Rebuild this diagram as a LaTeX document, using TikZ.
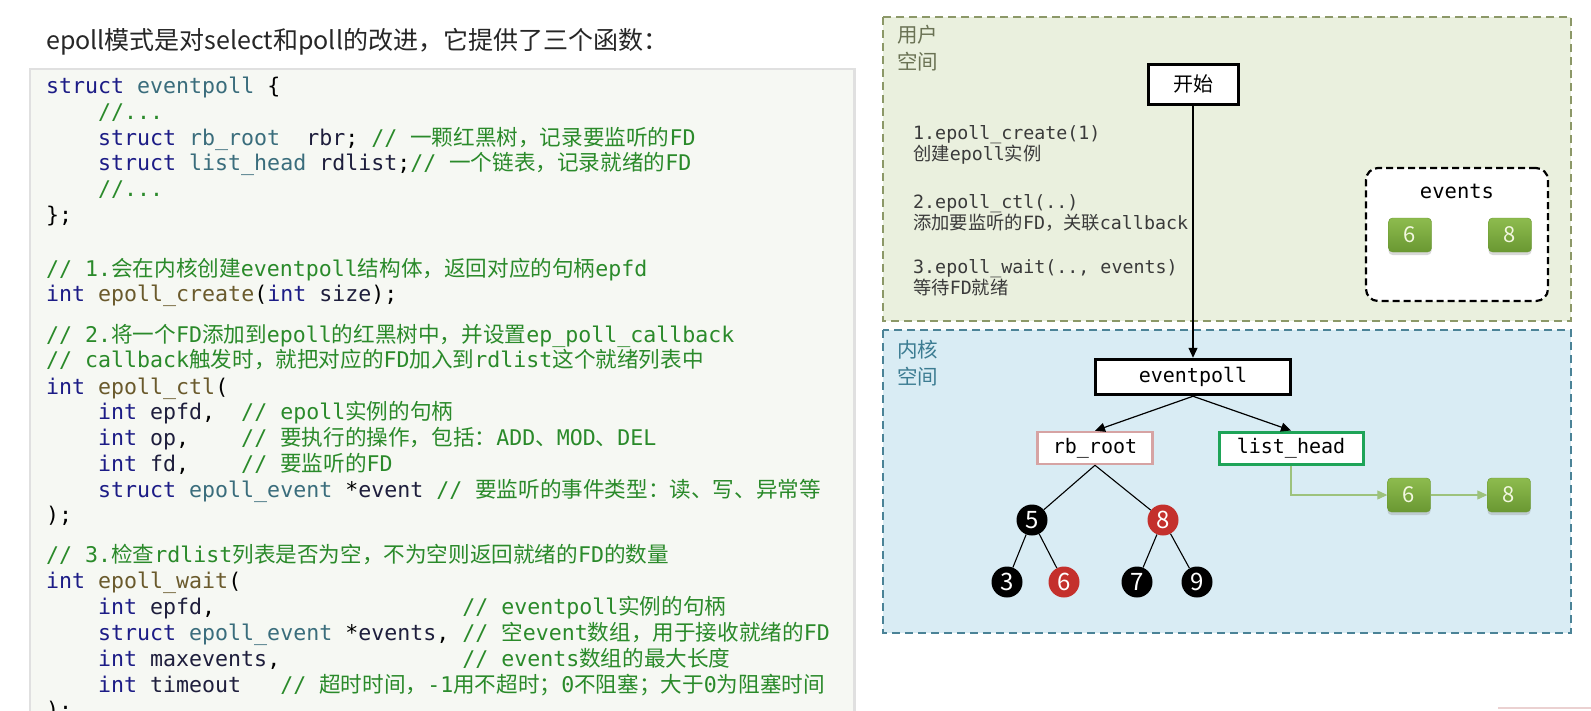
\documentclass[tikz,border=0pt]{standalone}
\usepackage{fontspec}
\setmonofont{DejaVu Sans Mono}
\newfontfamily\zhfont{Noto Sans CJK SC}
\usepackage{tikz}
\usetikzlibrary{arrows.meta, positioning, shadows}

\definecolor{kwblue}{HTML}{1C1C86}
\definecolor{varink}{HTML}{1E1E3C}
\definecolor{tyteal}{HTML}{3A6D7C}
\definecolor{fnbrown}{HTML}{6A5A2C}
\definecolor{cmgreen}{HTML}{2A8A2A}
\definecolor{codebg}{HTML}{F6F8F3}
\definecolor{userbg}{HTML}{EAF0DE}
\definecolor{userline}{HTML}{8C9868}
\definecolor{userlbl}{HTML}{6A7254}
\definecolor{kernbg}{HTML}{D9ECF4}
\definecolor{kernline}{HTML}{4B8397}
\definecolor{kernlbl}{HTML}{3C7C92}
\definecolor{rbred}{HTML}{C4302C}
\definecolor{rbpink}{HTML}{D6A3A3}
\definecolor{lhgreen}{HTML}{1EA458}
\definecolor{fdtop}{HTML}{8DBB4E}
\definecolor{fdbot}{HTML}{6A9832}
\definecolor{fdtext}{HTML}{F2F7DF}
\definecolor{listline}{HTML}{9DC27C}
\definecolor{stepink}{HTML}{3A3A3A}

\newcommand{\kw}[1]{\textcolor{kwblue}{#1}}
\newcommand{\vname}[1]{\textcolor{varink}{#1}}
\newcommand{\tname}[1]{\textcolor{tyteal}{#1}}
\newcommand{\fname}[1]{\textcolor{fnbrown}{#1}}
\newcommand{\cmt}[1]{\textcolor{cmgreen}{#1}}
\newcommand{\zh}[1]{{\zhfont #1}}
\newcommand{\codefont}{\ttfamily\frenchspacing\fontsize{21.6}{26}\selectfont}
\newcommand{\stepfont}{\ttfamily\frenchspacing\fontsize{18.3}{20}\selectfont}

\begin{document}
\begin{tikzpicture}[
  x=1pt, y=-1pt, >={Triangle[length=10pt,width=9pt]},
  code/.style={anchor=base west, inner sep=0pt, font=\codefont},
  steptxt/.style={anchor=base west, inner sep=0pt, font=\stepfont, text=stepink},
  zone/.style={dash pattern=on 8pt off 5pt, line width=1.8pt},
  zonelbl/.style={anchor=base west, inner sep=0pt, font=\zhfont\fontsize{20.5}{20}\selectfont},
  framebox/.style={draw, line width=3pt, fill=white, inner sep=0pt},
  rbnode/.style={circle, fill=black, text=white, minimum size=31pt, inner sep=0pt, font=\zhfont\fontsize{24}{24}\selectfont},
  fdbox/.style={rounded corners=4pt, minimum width=43pt, minimum height=34pt, inner sep=0pt,
    top color=fdtop, bottom color=fdbot, draw=fdbot, text=fdtext,
    font=\zhfont\fontsize{22}{22}\selectfont,
    drop shadow={opacity=0.3, shadow xshift=0pt, shadow yshift=-3pt}},
  link/.style={->, line width=1.2pt},
  listlink/.style={-{Triangle[length=10pt,width=9pt]}, draw=listline, line width=1.1pt},
  treeline/.style={line width=1.1pt}
  ]
  \useasboundingbox (0,0) rectangle (1591,710);
  \clip (0,0) rectangle (1591,710);
  \fill[white] (0,0) rectangle (1591,710);

  % title
  \node[anchor=base west, inner sep=0pt, font=\zhfont\fontsize{25}{25}\selectfont, text=black!85] (title) at (46,49)
    {epoll模式是对select和poll的改进，它提供了三个函数：};

  % code panel
  \fill[black!12] (29,68) rectangle (856,720);
  \fill[codebg] (31,70) rectangle (853,720);
  \node[code] (c1) at (46,93) {\kw{struct}~\tname{eventpoll}~\{};
  \node[code] (c2) at (98,119) {\cmt{//...}};
  \node[code] (c3) at (98,145) {\kw{struct}~\tname{rb\_root}~~\vname{rbr};~\cmt{//~\zh{一颗红黑树，记录要监听的}FD}};
  \node[code] (c4) at (98,170) {\kw{struct}~\tname{list\_head}~\vname{rdlist};\cmt{//~\zh{一个链表，记录就绪的}FD}};
  \node[code] (c5) at (98,196) {\cmt{//...}};
  \node[code] (c6) at (46,222) {\};};
  \node[code] (c7) at (46,276) {\cmt{//~1.\zh{会在内核创建}eventpoll\zh{结构体，返回对应的句柄}epfd}};
  \node[code] (c8) at (46,301) {\kw{int}~\fname{epoll\_create}(\kw{int}~\vname{size});};
  \node[code] (c9) at (46,342) {\cmt{//~2.\zh{将一个}FD\zh{添加到}epoll\zh{的红黑树中，并设置}ep\_poll\_callback}};
  \node[code] (c10) at (46,367) {\cmt{//~callback\zh{触发时，就把对应的}FD\zh{加入到}rdlist\zh{这个就绪列表中}}};
  \node[code] (c11) at (46,394) {\kw{int}~\fname{epoll\_ctl}(};
  \node[code] (c12) at (98,419) {\kw{int}~\vname{epfd},~~\cmt{//~epoll\zh{实例的句柄}}};
  \node[code] (c13) at (98,445) {\kw{int}~\vname{op},~~~~\cmt{//~\zh{要执行的操作，包括：}ADD\zh{、}MOD\zh{、}DEL}};
  \node[code] (c14) at (98,471) {\kw{int}~\vname{fd},~~~~\cmt{//~\zh{要监听的}FD}};
  \node[code] (c15) at (98,497) {\kw{struct}~\tname{epoll\_event}~*\vname{event}~\cmt{//~\zh{要监听的事件类型：读、写、异常等}}};
  \node[code] (c16) at (46,522) {);};
  \node[code] (c17) at (46,562) {\cmt{//~3.\zh{检查}rdlist\zh{列表是否为空，不为空则返回就绪的}FD\zh{的数量}}};
  \node[code] (c18) at (46,588) {\kw{int}~\fname{epoll\_wait}(};
  \node[code] (c19) at (98,614) {\kw{int}~\vname{epfd},~~~~~~~~~~~~~~~~~~~\cmt{//~eventpoll\zh{实例的句柄}}};
  \node[code] (c20) at (98,640) {\kw{struct}~\tname{epoll\_event}~*\vname{events},~\cmt{//~\zh{空}event\zh{数组，用于接收就绪的}FD}};
  \node[code] (c21) at (98,666) {\kw{int}~\vname{maxevents},~~~~~~~~~~~~~~\cmt{//~events\zh{数组的最大长度}}};
  \node[code] (c22) at (98,692) {\kw{int}~\vname{timeout}~~~\cmt{//~\zh{超时时间，}-1\zh{用不超时；}0\zh{不阻塞；大于}0\zh{为阻塞时间}}};
  \node[code] (c23) at (46,717) {);};

  % user space
  \draw[zone, draw=userline, fill=userbg] (883,17) rectangle (1571,321);
  \node[zonelbl, text=userlbl] (ulbl1) at (897,42) {用户};
  \node[zonelbl, text=userlbl] (ulbl2) at (897,69) {空间};
  \node[framebox, minimum width=90pt, minimum height=40pt, font=\zhfont\fontsize{20}{20}\selectfont] (start) at (1193,84) {开始};
  \node[steptxt] (s1) at (913,139) {1.epoll\_create(1)};
  \node[steptxt] (s2) at (913,160) {\zh{创建}epoll\zh{实例}};
  \node[steptxt] (s3) at (913,208) {2.epoll\_ctl(..)};
  \node[steptxt] (s4) at (913,229) {\zh{添加要监听的}FD\zh{，关联}callback};
  \node[steptxt] (s5) at (913,273) {3.epoll\_wait(..,~events)};
  \node[steptxt] (s6) at (913,294) {\zh{等待}FD\zh{就绪}};
  \node[draw, fill=white, line width=2.2pt, dash pattern=on 7pt off 4pt, rounded corners=12pt,
    minimum width=182pt, minimum height=133pt] (evbox) at (1457,234.5) {};
  \node[font=\ttfamily\fontsize{20.5}{20}\selectfont, inner sep=0pt] (evlbl) at (1457,191) {events};
  \node[fdbox] (ev6) at (1410,235) {6};
  \node[fdbox] (ev8) at (1510,235) {8};

  % kernel space
  \draw[zone, draw=kernline, fill=kernbg] (883,330) rectangle (1571,633);
  \node[zonelbl, text=kernlbl] (klbl1) at (897,357) {内核};
  \node[zonelbl, text=kernlbl] (klbl2) at (897,384) {空间};
  \node[framebox, line width=3.5pt, minimum width=195pt, minimum height=35pt, font=\ttfamily\fontsize{20}{20}\selectfont] (ep) at (1193,377) {eventpoll};
  \node[framebox, draw=rbpink, line width=2.5pt, minimum width=115pt, minimum height=32pt, font=\ttfamily\fontsize{20}{20}\selectfont] (rb) at (1095,448) {rb\_root};
  \node[framebox, draw=lhgreen, minimum width=144pt, minimum height=32pt, font=\ttfamily\fontsize{20}{20}\selectfont] (lh) at (1291,448) {list\_head};
  \draw[link] (start) -- (ep);
  \draw[link] (ep.south) -- (rb.north);
  \draw[link] (ep.south) -- (lh.north);

  % red-black tree
  \node[rbnode] (n5) at (1032,520) {5};
  \node[rbnode, fill=rbred] (n8) at (1163,520) {8};
  \node[rbnode] (n3) at (1007,582) {3};
  \node[rbnode, fill=rbred] (n6) at (1064,582) {6};
  \node[rbnode] (n7) at (1137,582) {7};
  \node[rbnode] (n9) at (1197,582) {9};
  \draw[treeline] (rb.south) -- (n5);
  \draw[treeline] (rb.south) -- (n8);
  \draw[treeline] (n5) -- (n3);
  \draw[treeline] (n5) -- (n6);
  \draw[treeline] (n8) -- (n7);
  \draw[treeline] (n8) -- (n9);

  % ready list
  \node[fdbox] (ls6) at (1409,495) {6};
  \node[fdbox] (ls8) at (1509,495) {8};
  \draw[listlink] (lh.south) |- (ls6);
  \draw[listlink] (ls6) -- (ls8);

  \draw[rbpink!50, line width=1.5pt] (1498,708) -- (1591,708);
\end{tikzpicture}
\end{document}
